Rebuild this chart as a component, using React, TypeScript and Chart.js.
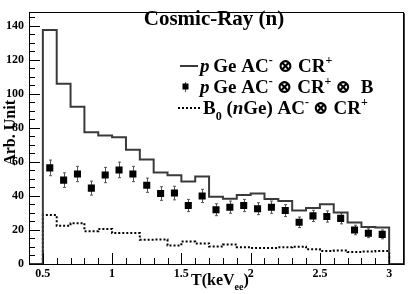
import { useEffect, useRef } from 'react';
import { Chart, registerables } from 'chart.js';

Chart.register(...registerables);

// Bin centres (keV_ee), bin width 0.1
const binCenters = [0.55, 0.65, 0.75, 0.85, 0.95, 1.05, 1.15, 1.25, 1.35, 1.45, 1.55, 1.65, 1.75, 1.85, 1.95, 2.05, 2.15, 2.25, 2.35, 2.45, 2.55, 2.65, 2.75, 2.85, 2.95];
const binWidth = 0.1;
// pGe AC- (x) CR+  (solid histogram)
const pGeCR = [137.5, 106.0, 92.5, 77.5, 75.5, 74.5, 67.2, 61.4, 53.8, 52.1, 48.5, 51.4, 39.5, 38.3, 40.6, 41.4, 38.2, 37.0, 31.4, 32.9, 35.1, 30.2, 24.4, 21.8, 21.4];
// pGe AC- (x) CR+ (x) B  (markers)
const pGeCRB = [56.5, 49.3, 52.9, 44.6, 52.3, 55.3, 52.9, 46.3, 41.4, 41.7, 34.4, 40.0, 31.9, 33.4, 34.4, 32.5, 33.4, 31.4, 24.5, 28.3, 27.9, 26.8, 20.0, 18.1, 17.4];
const pGeCRBErr = [4.6, 4.3, 4.5, 4.1, 4.5, 4.6, 4.5, 4.2, 4.0, 4.0, 3.6, 3.9, 3.5, 3.6, 3.6, 3.5, 3.6, 3.5, 3.1, 3.3, 3.3, 3.2, 2.8, 2.6, 2.6];
// B0 (nGe) AC- (x) CR+  (dotted histogram)
const b0nGe = [28.8, 22.5, 24.0, 19.3, 20.6, 18.2, 18.2, 14.3, 14.4, 10.9, 13.2, 12.1, 10.3, 11.5, 9.9, 9.4, 9.4, 9.8, 10.2, 8.7, 7.6, 7.9, 7.0, 7.3, 7.6];

const xMin = 0.4;
const xMax = 3.1;
const yMin = 0;
const yMax = 148;
const xMajorTicks = [0.5, 1, 1.5, 2, 2.5, 3];
const yMajorTicks = [0, 20, 40, 60, 80, 100, 120, 140];
const xMinorStep = 0.1;
const yMinorStep = 5;

const SERIF = '"Liberation Serif", "DejaVu Serif", serif';

type Seg = { t: string; it?: boolean; sup?: boolean; sub?: boolean };

const legendLines: Seg[][] = [
  [{ t: 'p', it: true }, { t: '\u2009Ge AC' }, { t: '-', sup: true }, { t: ' \u2297 CR' }, { t: '+', sup: true }],
  [{ t: 'p', it: true }, { t: '\u2009Ge AC' }, { t: '-', sup: true }, { t: '\u2009\u2297 CR' }, { t: '+', sup: true }, { t: '\u2009\u2297  B' }],
  [{ t: 'B' }, { t: '0', sub: true }, { t: ' (' }, { t: 'n', it: true }, { t: 'Ge) AC' }, { t: '-', sup: true }, { t: '\u2009\u2297 CR' }, { t: '+', sup: true }],
];

// Step points: each point starts a bin at its left edge (stepped 'before')
function histPoints(values: number[], padLeft: boolean, padRight: boolean) {
  const pts: { x: number; y: number }[] = [];
  const firstEdge = binCenters[0] - binWidth / 2;
  const lastEdge = binCenters[binCenters.length - 1] + binWidth / 2;
  pts.push({ x: padLeft ? xMin : firstEdge, y: 0 });
  binCenters.forEach((c, i) => pts.push({ x: c - binWidth / 2, y: values[i] }));
  pts.push({ x: lastEdge, y: 0 });
  if (padRight) pts.push({ x: xMax, y: 0 });
  return pts;
}

function drawRich(ctx: CanvasRenderingContext2D, segs: Seg[], x: number, y: number, size: number) {
  let cx = x;
  ctx.textBaseline = 'alphabetic';
  ctx.textAlign = 'left';
  for (const s of segs) {
    const sz = s.sup || s.sub ? Math.round(size * 0.62) : size;
    ctx.font = `${s.it ? 'italic ' : ''}bold ${sz}px ${SERIF}`;
    const dy = s.sup ? -size * 0.4 : s.sub ? size * 0.3 : 0;
    ctx.fillText(s.t, cx, y + dy);
    cx += ctx.measureText(s.t).width;
  }
  return cx;
}

const decorPlugin = {
  id: 'rootDecor',
  beforeDatasetsDraw(chart: any) {
    const ctx: CanvasRenderingContext2D = chart.ctx;
    const xs = chart.scales.x;
    const ys = chart.scales.y;
    ctx.save();
    ctx.strokeStyle = '#555';
    ctx.lineWidth = 1;
    binCenters.forEach((c, i) => {
      const px = Math.round(xs.getPixelForValue(c)) + 0.5;
      const top = ys.getPixelForValue(pGeCRB[i] + pGeCRBErr[i]);
      const bot = ys.getPixelForValue(pGeCRB[i] - pGeCRBErr[i]);
      ctx.beginPath();
      ctx.moveTo(px, top);
      ctx.lineTo(px, bot);
      ctx.moveTo(px - 1.5, top);
      ctx.lineTo(px + 1.5, top);
      ctx.moveTo(px - 1.5, bot);
      ctx.lineTo(px + 1.5, bot);
      ctx.stroke();
    });
    ctx.restore();
  },
  afterDraw(chart: any) {
    const ctx: CanvasRenderingContext2D = chart.ctx;
    const a = chart.chartArea;
    const xs = chart.scales.x;
    const ys = chart.scales.y;
    ctx.save();
    // frame
    ctx.strokeStyle = '#000';
    ctx.lineWidth = 1;
    ctx.strokeRect(Math.round(a.left) + 0.5, Math.round(a.top) + 0.5, Math.round(a.right - a.left), Math.round(a.bottom - a.top));
    ctx.strokeStyle = '#444';
    ctx.lineWidth = 1;
    ctx.beginPath();
    ctx.moveTo(Math.round(a.right) + 1.5, a.top + 1);
    ctx.lineTo(Math.round(a.right) + 1.5, a.bottom + 1);
    ctx.stroke();
    // ticks (inward)
    ctx.strokeStyle = '#000';
    ctx.beginPath();
    for (let v = yMin; v <= yMax + 1e-9; v += yMinorStep) {
      const py = Math.round(ys.getPixelForValue(v)) + 0.5;
      const major = yMajorTicks.some((m) => Math.abs(m - v) < 1e-6);
      ctx.moveTo(a.left, py);
      ctx.lineTo(a.left + (major ? 11 : 6), py);
    }
    for (let k = 0; ; k++) {
      const v = xMin + k * xMinorStep;
      if (v > xMax + 1e-9) break;
      const px = Math.round(xs.getPixelForValue(v)) + 0.5;
      const major = xMajorTicks.some((m) => Math.abs(m - v) < 1e-6);
      ctx.moveTo(px, a.bottom);
      ctx.lineTo(px, a.bottom - (major ? 11 : 6));
    }
    ctx.stroke();

    ctx.fillStyle = '#000';
    // title
    ctx.font = `bold 21px ${SERIF}`;
    ctx.textAlign = 'center';
    ctx.textBaseline = 'alphabetic';
    ctx.fillText('Cosmic-Ray (n)', 214, 25);

    // legend
    const lx = 200;
    const rows = [72, 93, 114];
    // row 1: solid line
    ctx.strokeStyle = '#3a3a3a';
    ctx.lineWidth = 2;
    ctx.beginPath();
    ctx.moveTo(180, rows[0] - 6);
    ctx.lineTo(198, rows[0] - 6);
    ctx.stroke();
    drawRich(ctx, legendLines[0], lx, rows[0], 19);
    // row 2: marker
    ctx.strokeStyle = '#555';
    ctx.lineWidth = 1;
    ctx.beginPath();
    ctx.moveTo(185.5, rows[1] - 11);
    ctx.lineTo(185.5, rows[1] - 1);
    ctx.stroke();
    ctx.fillStyle = '#000';
    ctx.fillRect(182.5, rows[1] - 9.5, 6, 6);
    drawRich(ctx, legendLines[1], lx, rows[1], 19);
    // row 3: dotted
    ctx.strokeStyle = '#000';
    ctx.lineWidth = 2;
    ctx.setLineDash([2, 2]);
    ctx.beginPath();
    ctx.moveTo(178, rows[2] - 6);
    ctx.lineTo(200, rows[2] - 6);
    ctx.stroke();
    ctx.setLineDash([]);
    drawRich(ctx, legendLines[2], 203, rows[2], 19);

    // x-axis title
    const xt: Seg[] = [{ t: 'T(keV' }, { t: 'ee', sub: true }, { t: ')' }];
    drawRich(ctx, xt, 191, 285, 16);

    // y-axis title
    ctx.save();
    ctx.translate(15, 100);
    ctx.rotate(-Math.PI / 2);
    ctx.font = `bold 16px ${SERIF}`;
    ctx.textAlign = 'right';
    ctx.textBaseline = 'alphabetic';
    ctx.fillText('Arb. Unit', 0, 0);
    ctx.restore();
    ctx.restore();
  },
};

export default function App() {
  const canvasRef = useRef<HTMLCanvasElement | null>(null);
  useEffect(() => {
    if (!canvasRef.current) return;
    const chart = new Chart(canvasRef.current, {
      type: 'line',
      data: {
        datasets: [
          {
            label: 'pGe AC- CR+',
            data: histPoints(pGeCR, true, true),
            stepped: 'before',
            borderColor: '#3a3a3a',
            borderWidth: 2,
            pointRadius: 0,
            fill: false,
          },
          {
            label: 'B0 (nGe) AC- CR+',
            data: histPoints(b0nGe, false, false),
            stepped: 'before',
            borderColor: '#000',
            borderWidth: 2,
            borderDash: [2, 2],
            pointRadius: 0,
            fill: false,
          },
          {
            type: 'scatter',
            label: 'pGe AC- CR+ B',
            data: binCenters.map((c, i) => ({ x: c, y: pGeCRB[i] })),
            showLine: false,
            pointStyle: 'rect',
            pointRadius: 5,
            pointBackgroundColor: '#000',
            pointBorderColor: '#000',
            pointBorderWidth: 0,
          } as any,
        ],
      },
      options: {
        animation: false,
        responsive: false,
        events: [],
        layout: { padding: { top: 2, right: 6, left: 0, bottom: 0 } },
        plugins: { legend: { display: false }, tooltip: { enabled: false }, title: { display: false } },
        scales: {
          x: {
            type: 'linear',
            min: xMin,
            max: xMax,
            grid: { display: false, drawTicks: false },
            border: { display: false },
            afterBuildTicks: (s: any) => {
              s.ticks = xMajorTicks.map((v) => ({ value: v }));
            },
            afterFit: (s: any) => {
              s.height = 30;
            },
            ticks: {
              autoSkip: false,
              maxRotation: 0,
              padding: 3,
              color: '#000',
              font: { family: SERIF, weight: 'bold', size: 12 },
              callback: (v: any) => String(v),
            },
          },
          y: {
            type: 'linear',
            min: yMin,
            max: yMax,
            grid: { display: false, drawTicks: false },
            border: { display: false },
            afterBuildTicks: (s: any) => {
              s.ticks = yMajorTicks.map((v) => ({ value: v }));
            },
            afterFit: (s: any) => {
              s.width = 29;
            },
            ticks: {
              padding: 5,
              color: '#000',
              font: { family: SERIF, weight: 'bold', size: 12 },
              callback: (v: any) => String(v),
            },
          },
        },
      },
      plugins: [decorPlugin],
    });
    return () => chart.destroy();
  }, []);
  return (
    <div style={{ position: 'absolute', left: 0, top: 0, width: 409, height: 294, background: '#fff' }}>
      <canvas ref={canvasRef} width={409} height={294} style={{ display: 'block' }} />
    </div>
  );
}
